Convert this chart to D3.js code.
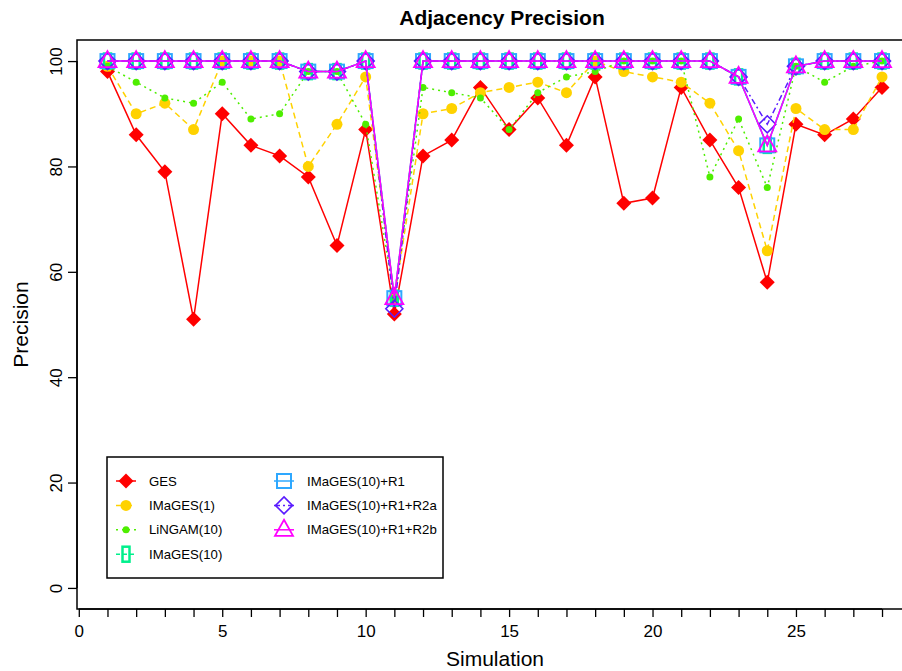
<!DOCTYPE html>
<html>
<head>
<meta charset="utf-8">
<script src="https://cdn.jsdelivr.net/npm/d3@7"></script>
<style>
  body { margin: 0; background: #fff; }
  svg { display: block; font-family: 'Liberation Sans', Arial, Helvetica, sans-serif; }
</style>
</head>
<body>
<div id="chart"></div>
<script>
// simulation index 1..28
const simulations = d3.range(1, 29);

const gesValues = [98, 86, 79, 51, 90, 84, 82, 78, 65, 87, 52, 82, 85, 95, 87, 93, 84, 97, 73, 74, 95, 85, 76, 58, 88, 86, 89, 95];
const images1Values = [99, 90, 92, 87, 100, 100, 100, 80, 88, 97, 55, 90, 91, 94, 95, 96, 94, 100, 98, 97, 96, 92, 83, 64, 91, 87, 87, 97];
const lingamValues = [99, 96, 93, 92, 96, 89, 90, 98, 98, 88, 55, 95, 94, 93, 87, 94, 97, 98, 100, 100, 100, 78, 89, 76, 99, 96, 99, 100];
const images10Values = [100, 100, 100, 100, 100, 100, 100, 98, 98, 100, 55, 100, 100, 100, 100, 100, 100, 100, 100, 100, 100, 100, 97, 84, 99, 100, 100, 100];
const images10R1Values = [100, 100, 100, 100, 100, 100, 100, 98, 98, 100, 55, 100, 100, 100, 100, 100, 100, 100, 100, 100, 100, 100, 97, 84, 99, 100, 100, 100];
const images10R2aValues = [100, 100, 100, 100, 100, 100, 100, 98, 98, 100, 53, 100, 100, 100, 100, 100, 100, 100, 100, 100, 100, 100, 97, 88, 99, 100, 100, 100];
const images10R2bValues = [100, 100, 100, 100, 100, 100, 100, 98, 98, 100, 55, 100, 100, 100, 100, 100, 100, 100, 100, 100, 100, 100, 97, 84, 99, 100, 100, 100];

const seriesNames = ['GES', 'IMaGES(1)', 'LiNGAM(10)', 'IMaGES(10)', 'IMaGES(10)+R1', 'IMaGES(10)+R1+R2a', 'IMaGES(10)+R1+R2b'];
const yTicks = [0, 20, 40, 60, 80, 100];
const xTickLabels = [0, 5, 10, 15, 20, 25];

// drawing style per series (same order as seriesNames)
const STYLES = [
  { color: '#ff0000', dash: null, symbol: 'diamondFilled' },
  { color: '#ffd200', dash: '6,4', symbol: 'circleBig' },
  { color: '#4eee00', dash: '2,4', symbol: 'circleSmall' },
  { color: '#00f08c', dash: '4,3', symbol: 'bar' },
  { color: '#2ea8ff', dash: null, symbol: 'square' },
  { color: '#5a1cff', dash: '6,3,2,3', symbol: 'diamond' },
  { color: '#ff00ff', dash: null, symbol: 'triangle' },
];

const series = [gesValues, images1Values, lingamValues, images10Values, images10R1Values, images10R2aValues, images10R2bValues]
  .map((values, i) => ({
    name: seriesNames[i],
    style: STYLES[i],
    points: simulations.map((s, j) => ({ x: s, y: values[j] })),
  }));

const width = 902;
const height = 671;
const box = { left: 77, right: 913, top: 40, bottom: 609 };

const x = d3.scaleLinear().domain([-0.08, 29.08]).range([box.left - 0.5, box.right]);
const y = d3.scaleLinear().domain([-4, 104]).range([box.bottom, box.top]);

const svg = d3
  .select('#chart')
  .append('svg')
  .attr('width', width)
  .attr('height', height);

// clip marks to the plot box
svg.append('clipPath').attr('id', 'plot-clip')
  .append('rect')
  .attr('x', box.left).attr('y', box.top)
  .attr('width', box.right - box.left).attr('height', box.bottom - box.top);

function drawSymbol(g, symbol, color) {
  if (symbol === 'diamondFilled') {
    g.append('path').attr('d', 'M0,-7.5L7.5,0L0,7.5L-7.5,0Z').attr('fill', color);
  } else if (symbol === 'circleBig') {
    g.append('circle').attr('r', 5.5).attr('fill', color);
  } else if (symbol === 'circleSmall') {
    g.append('circle').attr('r', 3.5).attr('fill', color);
  } else if (symbol === 'bar') {
    g.append('rect').attr('x', -3.5).attr('y', -7.5).attr('width', 7).attr('height', 15)
      .attr('fill', 'none').attr('stroke', color).attr('stroke-width', 2.5);
  } else if (symbol === 'square') {
    g.append('rect').attr('x', -7).attr('y', -7).attr('width', 14).attr('height', 14)
      .attr('fill', 'none').attr('stroke', color).attr('stroke-width', 2);
  } else if (symbol === 'diamond') {
    g.append('path').attr('d', 'M0,-8.5L8.5,0L0,8.5L-8.5,0Z')
      .attr('fill', 'none').attr('stroke', color).attr('stroke-width', 1.6);
  } else if (symbol === 'triangle') {
    g.append('path').attr('d', 'M0,-10L9,6L-9,6Z')
      .attr('fill', 'none').attr('stroke', color).attr('stroke-width', 1.8);
  }
}

const line = d3.line().x((d) => x(d.x)).y((d) => y(d.y));

const plot = svg.append('g').attr('clip-path', 'url(#plot-clip)');

series.forEach((s) => {
  plot.append('path')
    .datum(s.points)
    .attr('d', line)
    .attr('fill', 'none')
    .attr('stroke', s.style.color)
    .attr('stroke-width', 1.5)
    .attr('stroke-dasharray', s.style.dash);

  plot.append('g')
    .selectAll('g')
    .data(s.points)
    .join('g')
    .attr('transform', (d) => `translate(${x(d.x)},${y(d.y)})`)
    .each(function () {
      drawSymbol(d3.select(this), s.style.symbol, s.style.color);
    });
});

// plot box
svg.append('rect')
  .attr('x', box.left).attr('y', box.top)
  .attr('width', box.right - box.left).attr('height', box.bottom - box.top)
  .attr('fill', 'none').attr('stroke', '#000').attr('stroke-width', 1.5);

// x axis: a tick per simulation, labels every 5
const xAxis = svg.append('g')
  .attr('transform', `translate(0,${box.bottom})`)
  .call(d3.axisBottom(x)
    .tickValues(d3.range(0, 29))
    .tickSize(8)
    .tickSizeOuter(0)
    .tickFormat((d) => (xTickLabels.includes(d) ? d : '')));
xAxis.select('.domain').attr('d', `M${x(0)},0H${x(28)}`).attr('stroke-width', 1.5);
xAxis.selectAll('.tick line').attr('stroke-width', 1.3);
xAxis.selectAll('.tick text')
  .attr('y', 28)
  .attr('dy', 0)
  .attr('font-size', 17)
  .attr('font-family', null)
  .attr('fill', '#000');

// y axis with rotated labels
const yAxis = svg.append('g')
  .attr('transform', `translate(${box.left},0)`)
  .call(d3.axisLeft(y).tickValues(yTicks).tickSize(9).tickSizeOuter(0));
yAxis.select('.domain').attr('d', `M0,${y(0)}V${y(100)}`).attr('stroke-width', 1.5);
yAxis.selectAll('.tick line').attr('stroke-width', 1.3);
yAxis.selectAll('.tick text')
  .attr('x', null)
  .attr('dy', null)
  .attr('transform', 'translate(-15,0) rotate(-90)')
  .attr('text-anchor', 'middle')
  .attr('font-size', 17)
  .attr('font-family', null)
  .attr('fill', '#000');

svg.append('text')
  .attr('x', 502)
  .attr('y', 25)
  .attr('text-anchor', 'middle')
  .attr('font-size', 21)
  .attr('font-weight', 'bold')
  .text('Adjacency Precision');

svg.append('text')
  .attr('x', (box.left + box.right) / 2)
  .attr('y', 666)
  .attr('text-anchor', 'middle')
  .attr('font-size', 21)
  .text('Simulation');

svg.append('text')
  .attr('transform', `translate(27.5,${(box.top + box.bottom) / 2}) rotate(-90)`)
  .attr('text-anchor', 'middle')
  .attr('font-size', 21)
  .text('Precision');

// legend, two columns
const LEGEND_X = 107;
const LEGEND_Y = 457;
const LEGEND_ROW = 24.4;
const legend = svg.append('g');

legend.append('rect')
  .attr('x', LEGEND_X).attr('y', LEGEND_Y)
  .attr('width', 336).attr('height', 121)
  .attr('fill', '#fff').attr('stroke', '#000').attr('stroke-width', 1.5);

const legendItem = legend.selectAll('g')
  .data(series)
  .join('g')
  .attr('transform', (d, i) => {
    const col = i < 4 ? 0 : 1;
    const row = i < 4 ? i : i - 4;
    return `translate(${LEGEND_X + 18 + col * 158},${LEGEND_Y + 24 + row * LEGEND_ROW})`;
  });

legendItem.append('line')
  .attr('x1', -9).attr('x2', 11)
  .attr('stroke', (d) => d.style.color)
  .attr('stroke-width', 1.5)
  .attr('stroke-dasharray', (d) => d.style.dash);

legendItem.append('g')
  .attr('transform', 'translate(1,0)')
  .each(function (d) {
    drawSymbol(d3.select(this), d.style.symbol, d.style.color);
  });

legendItem.append('text')
  .attr('x', 24)
  .attr('dy', '0.35em')
  .attr('font-size', 13.2)
  .text((d) => d.name);
</script>
</body>
</html>
